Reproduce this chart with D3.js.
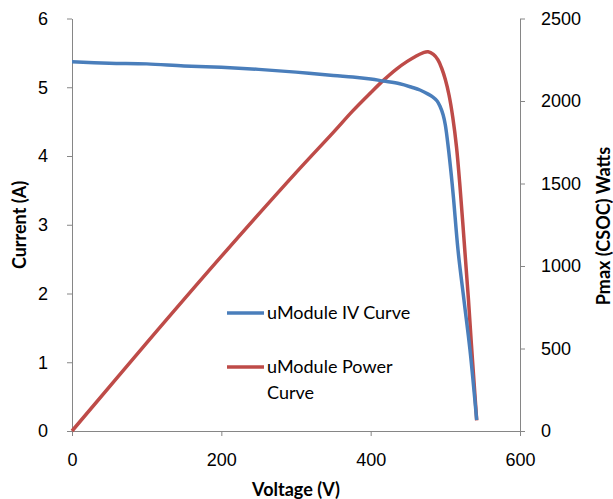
<!DOCTYPE html>
<html>
<head>
<meta charset="utf-8">
<script src="https://cdn.jsdelivr.net/npm/d3@7"></script>
<style>
  body { margin: 0; background: #fff; }
  svg { display: block; font-family: Lato, "Open Sans", sans-serif; }
  .axis path, .axis line { stroke: #868686; stroke-width: 1; }
  .axis text { font-size: 18px; fill: #000; }
  .title { font-size: 18px; font-weight: bold; fill: #000; }
  .legend text { font-size: 18px; fill: #000; }
</style>
</head>
<body>
<svg id="chart" width="613" height="499"></svg>
<script>
// IV curve
var ivVoltage = [ 0, 50, 100, 150, 200, 250, 300, 350, 376, 400, 417, 439, 455, 466, 477, 483, 489, 493, 497, 500, 504, 508, 511, 517, 525, 533, 542 ],
    ivCurrent = [ 5.37, 5.35, 5.34, 5.31, 5.29, 5.26, 5.22, 5.17, 5.15, 5.12, 5.09, 5.05, 5.00, 4.96, 4.90, 4.86, 4.80, 4.72, 4.60, 4.45, 4.12, 3.72, 3.38, 2.63, 1.90, 1.18, 0.16 ];

// power curve
var pVoltage = [ 0, 100, 200, 300, 350, 376, 400, 417, 435, 449, 460, 470, 477, 484, 490, 495, 500, 505, 510, 515, 520, 526, 531, 535, 539, 542 ],
    pPower = [ 0, 534, 1058, 1566, 1810, 1940, 2050, 2125, 2195, 2240, 2270, 2292, 2298, 2282, 2250, 2200, 2130, 2035, 1900, 1720, 1460, 1100, 794, 520, 260, 65 ];

var xTicks = [ 0, 200, 400, 600 ],
    iTicks = [ 0, 1, 2, 3, 4, 5, 6 ],
    pTicks = [ 0, 500, 1000, 1500, 2000, 2500 ];

var seriesNames = [ 'uModule IV Curve', 'uModule Power Curve' ],
    colors = { blue: '#4a7ebb', red: '#be4b48' };

var svg = d3.select( '#chart' ),
    plotLeft = 72, plotRight = 520, plotTop = 18.5, plotBottom = 431;

var x = d3.scaleLinear().domain( [ 0, 600 ] ).range( [ plotLeft, plotRight ] ),
    yI = d3.scaleLinear().domain( [ 0, 6 ] ).range( [ plotBottom, plotTop ] ),
    yP = d3.scaleLinear().domain( [ 0, 2500 ] ).range( [ plotBottom, plotTop ] );

var plain = d3.format( 'd' );

// axes
svg.append( 'g' ).attr( 'class', 'axis' )
    .attr( 'transform', 'translate(0,' + plotBottom + ')' )
    .call( d3.axisBottom( x ).tickValues( xTicks ).tickFormat( plain ).tickSize( 5 ).tickPadding( 17 ).tickSizeOuter( 0 ) );

svg.append( 'g' ).attr( 'class', 'axis' )
    .attr( 'transform', 'translate(' + plotLeft + ',0)' )
    .call( d3.axisLeft( yI ).tickValues( iTicks ).tickFormat( plain ).tickSize( 5 ).tickPadding( 19 ).tickSizeOuter( 0 ) );

svg.append( 'g' ).attr( 'class', 'axis' )
    .attr( 'transform', 'translate(' + plotRight + ',0)' )
    .call( d3.axisRight( yP ).tickValues( pTicks ).tickFormat( plain ).tickSize( 5 ).tickPadding( 16 ).tickSizeOuter( 0 ) );

svg.selectAll( '.axis .domain' ).attr( 'fill', 'none' );

// axis titles
svg.append( 'text' ).attr( 'class', 'title' )
    .attr( 'x', 296 ).attr( 'y', 496 )
    .attr( 'text-anchor', 'middle' )
    .text( 'Voltage (V)' );

svg.append( 'text' ).attr( 'class', 'title' )
    .attr( 'transform', 'translate(20,225) rotate(-90)' )
    .attr( 'text-anchor', 'middle' )
    .attr( 'dy', '0.35em' )
    .text( 'Current (A)' );

svg.append( 'text' ).attr( 'class', 'title' )
    .attr( 'transform', 'translate(604,226) rotate(-90)' )
    .attr( 'text-anchor', 'middle' )
    .attr( 'dy', '0.35em' )
    .text( 'Pmax (CSOC) Watts' );

// curves
var ivLine = d3.line()
    .x( function( d, i ) { return x( ivVoltage[ i ] ); } )
    .y( function( d ) { return yI( d ); } )
    .curve( d3.curveCatmullRom.alpha( 0.5 ) );

var pLine = d3.line()
    .x( function( d, i ) { return x( pVoltage[ i ] ); } )
    .y( function( d ) { return yP( d ); } )
    .curve( d3.curveCatmullRom.alpha( 0.5 ) );

svg.append( 'path' )
    .attr( 'd', pLine( pPower ) )
    .attr( 'fill', 'none' )
    .attr( 'stroke', colors.red )
    .attr( 'stroke-width', 3.5 );

svg.append( 'path' )
    .attr( 'd', ivLine( ivCurrent ) )
    .attr( 'fill', 'none' )
    .attr( 'stroke', colors.blue )
    .attr( 'stroke-width', 3.5 );

// legend
var legend = svg.append( 'g' ).attr( 'class', 'legend' );

legend.append( 'line' )
    .attr( 'x1', 227 ).attr( 'x2', 264 ).attr( 'y1', 313 ).attr( 'y2', 313 )
    .attr( 'stroke', colors.blue ).attr( 'stroke-width', 3.5 );
legend.append( 'text' )
    .attr( 'x', 267 ).attr( 'y', 313 ).attr( 'dy', '0.35em' )
    .text( seriesNames[ 0 ] );

legend.append( 'line' )
    .attr( 'x1', 227 ).attr( 'x2', 264 ).attr( 'y1', 367 ).attr( 'y2', 367 )
    .attr( 'stroke', colors.red ).attr( 'stroke-width', 3.5 );
var powerLabel = legend.append( 'text' )
    .attr( 'x', 267 ).attr( 'y', 367 ).attr( 'dy', '0.35em' );
powerLabel.append( 'tspan' ).text( 'uModule Power' );
powerLabel.append( 'tspan' ).attr( 'x', 267 ).attr( 'dy', 26 ).text( 'Curve' );
</script>
</body>
</html>
